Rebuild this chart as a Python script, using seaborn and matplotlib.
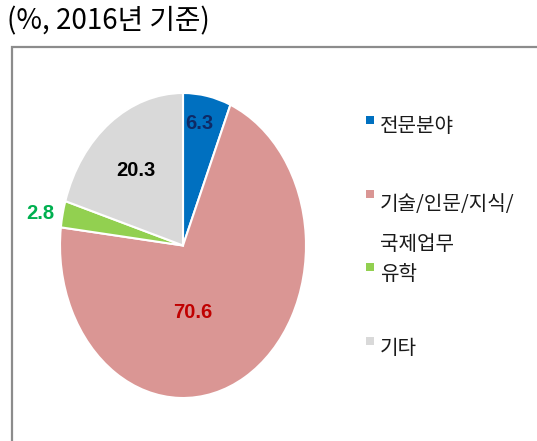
import matplotlib
matplotlib.use("Agg")
import matplotlib.pyplot as plt
import matplotlib.patches as mpatches
import seaborn as sns

# --- data ---
categories = ["전문분야", "기술/인문/지식/\n국제업무", "유학", "기타"]
values = [6.3, 70.6, 2.8, 20.3]
colors = ["#0070C0", "#DA9694", "#92D050", "#D9D9D9"]
label_colors = ["#0E2A66", "#C00000", "#00B050", "#000000"]

# label positions in pie data coords (x, y)
label_pos = [(0.13, 0.80), (0.08, -0.44), (-1.16, 0.21), (-0.38, 0.49)]

sns.set_theme(style="white")
plt.rcParams['font.family'] = ['Noto Sans CJK KR', 'DejaVu Sans']

W, H = 537, 441
fig = plt.figure(figsize=(W / 100, H / 100), dpi=100)

# frame around the chart area (runs off right / bottom edge)
frame = mpatches.Rectangle((12 / W, -0.1), 1.2, (H - 47) / H + 0.1,
                           transform=fig.transFigure, fill=False,
                           edgecolor="#8C8C8C", linewidth=1.6)
fig.add_artist(frame)

fig.text(7 / W, 1 - 21 / H, "(%, 2016년 기준)", fontsize=20,
         ha="left", va="center", color="black")

# pie axes (stretched -> elliptical pie like the original)
ax = fig.add_axes([60 / W, 1 - 398 / H, 246 / W, 305 / H])
wedges, _, autotexts = ax.pie(values, colors=colors, startangle=90,
                              counterclock=False, autopct="%.1f",
                              wedgeprops=dict(edgecolor="white", linewidth=1.5))
ax.set_aspect("auto")
ax.set_xlim(-1, 1)
ax.set_ylim(-1, 1)
ax.axis("off")

for t, v, pos, c in zip(autotexts, values, label_pos, label_colors):
    t.set_text(f"{v:.1f}")
    t.set_position(pos)
    t.set_color(c)
    t.set_fontsize(14.5)
    t.set_fontweight("bold")
    t.set_family(["Liberation Sans Narrow", "Liberation Sans", "DejaVu Sans"])

# manual legend
sq_y = [120, 194, 267, 341]
txt_y = [127, 204, 274, 348]
for i, (cat, col) in enumerate(zip(categories, colors)):
    sq = mpatches.Rectangle((366 / W, 1 - (sq_y[i] + 4) / H), 8 / W, 8 / H,
                            transform=fig.transFigure, facecolor=col,
                            edgecolor="none")
    fig.add_artist(sq)
    lines = cat.split("\n")
    fig.text(380 / W, 1 - txt_y[i] / H, lines[0], fontsize=14.5,
             ha="left", va="center", color="#1a1a1a")
    if len(lines) > 1:
        fig.text(380 / W, 1 - 245 / H, lines[1], fontsize=14.5,
                 ha="left", va="center", color="#1a1a1a")

plt.savefig("out.png", dpi=100)
